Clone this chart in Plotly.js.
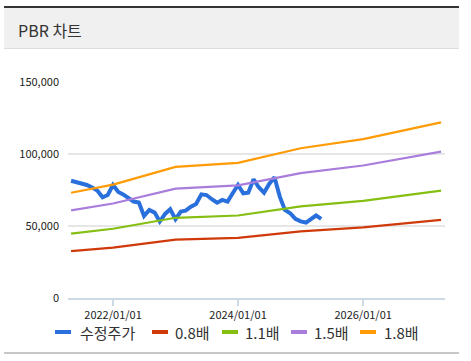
<!DOCTYPE html>
<html>
<head>
<meta charset="utf-8">
<script src="https://cdn.plot.ly/plotly-3.0.1.min.js"></script>
<style>
  html, body { margin: 0; padding: 0; background: #fff; width: 471px; height: 361px; overflow: hidden; }
  #card-top { position: absolute; left: 4px; top: 6px; width: 455px; height: 2px; background: #333; z-index: 2; }
  #card-head { position: absolute; left: 4px; top: 8px; width: 455px; height: 41px; background: #f0f0f0; border-bottom: 1px solid #dcdcdc; z-index: 2;
    font-family: "Noto Sans CJK KR", "Noto Sans", sans-serif; font-size: 16px; color: #333; line-height: 40px; box-sizing: border-box; padding-left: 14px; padding-top: 2px; }
  #card-bottom { position: absolute; left: 4px; top: 352px; width: 455px; height: 2px; background: #c8c8c8; z-index: 2; }
  #chart { position: absolute; left: 0; top: 0; width: 471px; height: 361px; z-index: 1; }
</style>
</head>
<body>
<div id="card-top"></div>
<div id="card-head">PBR 차트</div>
<div id="card-bottom"></div>
<div id="chart"></div>
<script>
// Adjusted price (수정주가), monthly
const priceDates = [
  "2021-05-01","2021-06-01","2021-07-01","2021-08-01","2021-09-01","2021-10-01","2021-11-01","2021-12-01",
  "2022-01-01","2022-02-01","2022-03-01","2022-04-01","2022-05-01","2022-06-01","2022-07-01","2022-08-01",
  "2022-09-01","2022-10-01","2022-11-01","2022-12-01","2023-01-01","2023-02-01","2023-03-01","2023-04-01",
  "2023-05-01","2023-06-01","2023-07-01","2023-08-01","2023-09-01","2023-10-01","2023-11-01","2023-12-01",
  "2024-01-01","2024-02-01","2024-03-01","2024-04-01","2024-05-01","2024-06-01","2024-07-01","2024-08-01",
  "2024-09-01","2024-10-01","2024-11-01","2024-12-01","2025-01-01","2025-02-01","2025-03-01","2025-04-01",
  "2025-05-01"
];
const priceValues = [
  81400, 80500, 80000, 78500, 76700, 74700, 69900, 71500,
  78500, 73600, 71900, 69800, 67000, 66300, 57000, 61200,
  59300, 53100, 58400, 61600, 54700, 60000, 60700, 63400,
  65300, 72000, 71500, 68600, 66200, 68100, 66900, 72700,
  78500, 72700, 73100, 82400, 76900, 73100, 79200, 83800,
  70400, 61200, 58900, 54900, 53200, 52400, 54400, 57300,
  54900
];

// PBR band lines
const bandDates = ["2021-05-01","2022-01-01","2023-01-01","2024-01-01","2025-01-01","2026-01-01","2027-04-01"];
const pbr08 = [32500, 35000, 40500, 41700, 46200, 49000, 54200];
const pbr11 = [44700, 48100, 55700, 57300, 63600, 67400, 74600];
const pbr15 = [60900, 65600, 75900, 78200, 86700, 92000, 101700];
const pbr18 = [73100, 78700, 91100, 93800, 104000, 110300, 122000];

const seriesNames = ["수정주가", "0.8배", "1.1배", "1.5배", "1.8배"];
const yTickVals = [0, 50000, 100000, 150000];
const xTickVals = ["2022-01-01", "2024-01-01", "2026-01-01"];
const xTickText = ["2022/01/01", "2024/01/01", "2026/01/01"];

const colors = ["#2a70dd", "#d0390a", "#85bf12", "#a97ddc", "#ff9b05"];
const seriesX = [priceDates, bandDates, bandDates, bandDates, bandDates];
const seriesY = [priceValues, pbr08, pbr11, pbr15, pbr18];
const widths = [4, 2.2, 2.2, 2.2, 2.2];

const traces = seriesNames.map((n, i) => ({
  x: seriesX[i], y: seriesY[i], name: n, mode: "lines",
  line: {color: colors[i], width: widths[i]}, showlegend: false
}));

// Plot area geometry (pixels) for the custom legend below the axis
const W = 471, H = 361, mL = 68, mR = 26, mT = 82, mB = 63;
const pw = W - mL - mR, ph = H - mT - mB;
const px2x = p => (p - mL) / pw;
const py2y = p => (H - mB - p) / ph;
const legendY = 332;
const legendDashX = [55, 152, 222, 291, 360];
const legendTextX = [78, 173, 243, 312, 382];

const shapes = legendDashX.map((x0, i) => ({
  type: "line", xref: "paper", yref: "paper",
  x0: px2x(x0), x1: px2x(x0 + 16), y0: py2y(legendY), y1: py2y(legendY),
  line: {color: colors[i], width: 4}
}));
const annotations = seriesNames.map((n, i) => ({
  xref: "paper", yref: "paper", x: px2x(legendTextX[i]), y: py2y(legendY),
  xanchor: "left", yanchor: "middle", showarrow: false, text: n,
  font: {size: 15, color: "#333"}
}));

const layout = {
  width: W, height: H,
  margin: {l: mL, r: mR, t: mT, b: mB},
  paper_bgcolor: "rgba(0,0,0,0)",
  plot_bgcolor: "#fff",
  font: {family: "'Noto Sans CJK KR', 'Noto Sans', sans-serif", color: "#222", size: 11},
  showlegend: false,
  shapes: shapes,
  annotations: annotations,
  xaxis: {
    type: "date",
    range: ["2021-04-13", "2027-04-24"],
    tickvals: xTickVals, ticktext: xTickText,
    showgrid: false, zeroline: false,
    showline: true, linecolor: "#cdd9e5", linewidth: 2,
    ticks: "outside", ticklen: 6, tickcolor: "#cdd9e5", tickwidth: 2,
    tickfont: {size: 11, color: "#222"}
  },
  yaxis: {
    range: [0, 150000],
    tickvals: yTickVals, tickformat: ",",
    showgrid: true, gridcolor: "#e6e6e6", gridwidth: 2,
    zeroline: false, showline: false,
    ticklabelstandoff: 8,
    tickfont: {size: 11, color: "#222"}
  }
};

Plotly.newPlot("chart", traces, layout, {staticPlot: true, displayModeBar: false});
</script>
</body>
</html>
